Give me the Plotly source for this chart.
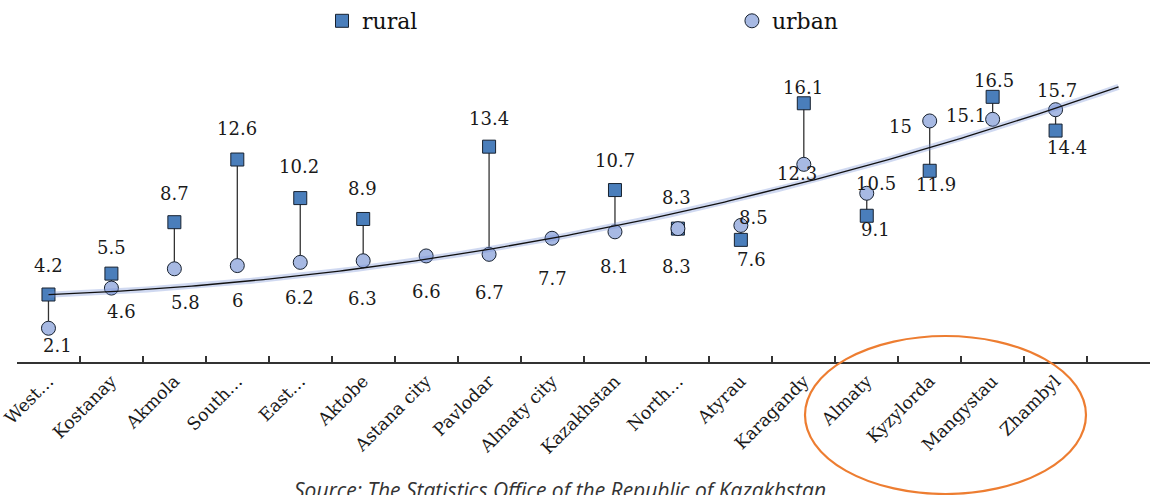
import numpy as np
import plotly.graph_objects as go

# Regions, ordered as on the axis
regions = ["West…", "Kostanay", "Akmola", "South…", "East…", "Aktobe",
           "Astana city", "Pavlodar", "Almaty city", "Kazakhstan", "North…",
           "Atyrau", "Karagandy", "Almaty", "Kyzylorda", "Mangystau", "Zhambyl"]

rural = [4.2, 5.5, 8.7, 12.6, 10.2, 8.9, None, 13.4, None, 10.7, 8.3,
         7.6, 16.1, 9.1, 11.9, 16.5, 14.4]
urban = [2.1, 4.6, 5.8, 6.0, 6.2, 6.3, 6.6, 6.7, 7.7, 8.1, 8.3,
         8.5, 12.3, 10.5, 15.0, 15.1, 15.7]

# Label offsets in pixels (dx right, dy down) relative to each marker
rural_off = [(0, -29), (0, -26), (0, -29), (0, -31), (-1, -32), (-1, -30),
             (0, 0), (0, -28), (0, 0), (0, -30), (-1, -31), (11, 20),
             (-1, -16), (9, 14), (6, 14), (1, -16), (11, 17)]
urban_off = [(9, 17), (10, 23), (11, 34), (0, 35), (-1, 35), (-1, 38),
             (0, 36), (0, 38), (0, 40), (0, 35), (-1, 38), (13, -8),
             (-7, 9), (9, -10), (-29, 6), (-27, -4), (1, -19)]

RURAL_FILL = "#4A7EBB"
URBAN_FILL = "#A7B9E3"
EDGE = "#17212F"
SERIF = "DejaVu Serif"

fig = go.Figure()

# Quadratic trend of the urban series, extended one period forward
idx = np.arange(len(urban))
coef = np.polyfit(idx, np.array(urban, dtype=float), 2)
tx = np.linspace(0, len(urban), 240)
ty = np.polyval(coef, tx)
fig.add_trace(go.Scatter(x=tx, y=ty, xaxis="x2", mode="lines",
                         line=dict(color="rgba(120,145,215,0.35)", width=6),
                         hoverinfo="skip", showlegend=False))
fig.add_trace(go.Scatter(x=tx, y=ty, xaxis="x2", mode="lines",
                         line=dict(color="#111111", width=1.3),
                         hoverinfo="skip", showlegend=False))

# High-low connectors between rural and urban values
cx, cy = [], []
for name, r, u in zip(regions, rural, urban):
    if r is None or u is None:
        continue
    cx += [name, name, None]
    cy += [r, u, None]
fig.add_trace(go.Scatter(x=cx, y=cy, mode="lines",
                         line=dict(color="#333333", width=1.3),
                         hoverinfo="skip", showlegend=False))

fig.add_trace(go.Scatter(
    x=regions, y=rural, mode="markers", name="rural", legend="legend",
    marker=dict(symbol="square", size=13, color=RURAL_FILL,
                line=dict(color=EDGE, width=1))))
fig.add_trace(go.Scatter(
    x=regions, y=urban, mode="markers", name="urban", legend="legend2",
    marker=dict(symbol="circle", size=14, color=URBAN_FILL,
                line=dict(color=EDGE, width=1))))

# Value labels
annotations = []
for series, offs in ((rural, rural_off), (urban, urban_off)):
    for name, v, (dx, dy) in zip(regions, series, offs):
        if v is None:
            continue
        annotations.append(dict(
            x=name, y=v, xref="x", yref="y", text=f"{v:g}", showarrow=False,
            xshift=dx, yshift=-dy,
            font=dict(family=SERIF, size=18, color="#1a1a1a")))

annotations.append(dict(
    x=0.479, y=-0.309, xref="paper", yref="paper", xanchor="center",
    yanchor="top", showarrow=False,
    text="<i>Source: The Statistics Office of the Republic of Kazakhstan</i>",
    font=dict(family="Open Sans", size=21, color="#333333")))

legend_style = dict(orientation="h", y=1.0, xanchor="left", yanchor="top",
                    font=dict(family=SERIF, size=22, color="#111111"),
                    bgcolor="rgba(0,0,0,0)")

fig.update_layout(
    width=1150, height=495,
    margin=dict(l=17, r=0, t=0, b=133),
    paper_bgcolor="white", plot_bgcolor="white",
    annotations=annotations,
    shapes=[dict(type="circle", xref="paper", yref="paper",
                 x0=0.6955, x1=0.9435, y0=-0.3646, y1=0.0718,
                 line=dict(color="#ED7D31", width=2.2))],
    legend=dict(x=0.2692, **legend_style),
    legend2=dict(x=0.631, **legend_style),
    xaxis=dict(type="category", categoryorder="array",
               categoryarray=regions, range=[-0.5, len(regions) + 0.5],
               showgrid=False, zeroline=False, showline=True,
               linecolor="#333333", linewidth=2, ticks="inside",
               tickson="boundaries", ticklen=6, tickwidth=1.5,
               tickcolor="#333333", tickangle=-45,
               tickfont=dict(family=SERIF, size=17.5, color="#1a1a1a")),
    xaxis2=dict(type="linear", overlaying="x",
                range=[-0.5, len(regions) + 0.5], visible=False),
    yaxis=dict(range=[0, 362 / 16.07], visible=False, showgrid=False,
               zeroline=False),
)

fig.write_html("out.html")
